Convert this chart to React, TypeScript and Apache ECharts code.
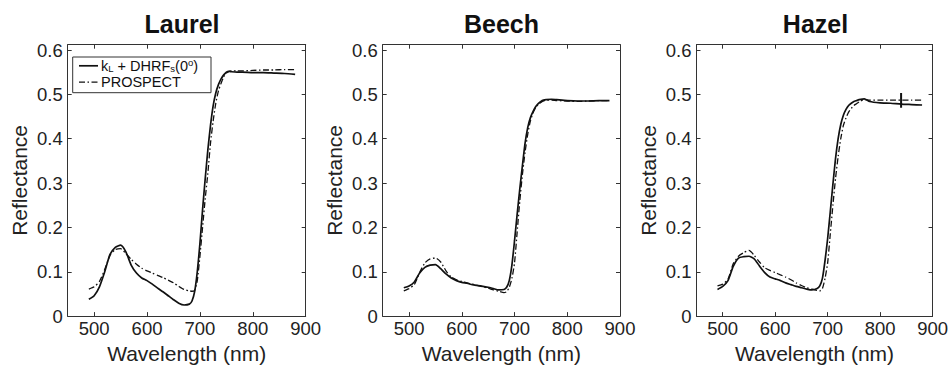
import React, { useEffect, useRef } from "react";
import * as echarts from "echarts";

// ---------- data ----------
const panelTitles = ["Laurel", "Beech", "Hazel"];

const wavelengths = [
  490, 500, 510, 520, 530, 540, 550, 560, 570, 580, 590, 600, 610, 620, 630, 640, 650, 660, 670, 680,
  685, 690, 695, 700, 705, 710, 715, 720, 725, 730, 735, 740, 745, 750, 755, 760,
  770, 780, 800, 820, 840, 860, 880,
];

const laurelModel = [
  0.038, 0.046, 0.066, 0.1, 0.139, 0.155, 0.16, 0.145, 0.115, 0.097, 0.086, 0.08, 0.072, 0.063, 0.055, 0.046, 0.037, 0.029, 0.025, 0.027,
  0.034, 0.055, 0.1, 0.164, 0.24, 0.31, 0.375, 0.43, 0.474, 0.503, 0.522, 0.535, 0.544, 0.55, 0.552, 0.551,
  0.55, 0.55, 0.549, 0.549, 0.548, 0.547, 0.545,
];
const laurelProspect = [
  0.061, 0.066, 0.078, 0.105, 0.137, 0.15, 0.152, 0.141, 0.128, 0.117, 0.108, 0.102, 0.097, 0.092, 0.087, 0.081, 0.075, 0.067, 0.06, 0.057,
  0.056, 0.058, 0.08, 0.135, 0.2, 0.265, 0.322, 0.39, 0.44, 0.48, 0.508, 0.525, 0.54, 0.548, 0.552, 0.553,
  0.553, 0.553, 0.554, 0.555, 0.555, 0.556, 0.556,
];
const beechModel = [
  0.064, 0.068, 0.077, 0.097, 0.11, 0.115, 0.116, 0.107, 0.095, 0.086, 0.08, 0.076, 0.074, 0.071, 0.069, 0.067, 0.065, 0.062, 0.059, 0.06,
  0.065, 0.08, 0.115, 0.17, 0.23, 0.287, 0.34, 0.39, 0.425, 0.447, 0.461, 0.472, 0.479, 0.484, 0.487, 0.488,
  0.489, 0.488, 0.486, 0.485, 0.485, 0.486, 0.486,
];
const beechProspect = [
  0.057, 0.062, 0.071, 0.098, 0.12, 0.129, 0.131, 0.122, 0.102, 0.088, 0.082, 0.078, 0.075, 0.072, 0.069, 0.066, 0.063, 0.059, 0.056, 0.053,
  0.055, 0.065, 0.085, 0.12, 0.19, 0.26, 0.32, 0.37, 0.41, 0.44, 0.458, 0.47, 0.477, 0.482, 0.485, 0.487,
  0.487, 0.486, 0.485, 0.484, 0.485, 0.486, 0.486,
];
const hazelModel = [
  0.06, 0.067, 0.08, 0.112, 0.131, 0.134, 0.135, 0.129, 0.113, 0.098, 0.088, 0.084, 0.08, 0.075, 0.071, 0.067, 0.064, 0.061, 0.059, 0.062,
  0.068, 0.085, 0.125, 0.175, 0.235, 0.297, 0.355, 0.4, 0.432, 0.453, 0.466, 0.475, 0.48, 0.484, 0.486, 0.488,
  0.49, 0.484, 0.481, 0.48, 0.478, 0.477, 0.476,
];
const hazelProspect = [
  0.068, 0.072, 0.083, 0.118, 0.135, 0.143, 0.148, 0.137, 0.122, 0.109, 0.103, 0.098, 0.093, 0.088, 0.082, 0.075, 0.069, 0.064, 0.061, 0.058,
  0.057, 0.062, 0.085, 0.12, 0.185, 0.25, 0.31, 0.36, 0.4, 0.43, 0.447, 0.46, 0.468, 0.475, 0.479, 0.483,
  0.488, 0.487, 0.487, 0.487, 0.487, 0.487, 0.487,
];
// short vertical mark visible in the Hazel panel
const hazelMarkWl = [840, 840];
const hazelMark = [0.47, 0.503];

const xTicks = [500, 600, 700, 800, 900];
const yTicks = [0, 0.1, 0.2, 0.3, 0.4, 0.5, 0.6];

const xMin = 450;
const xMax = 900;
const yMin = 0;
const yMax = 0.612;

// ---------- layout ----------
const gridLefts = [67.7, 382.7, 696.5];
const gridWidths = [238, 237.3, 236.5];
const gridTop = 44.7;
const gridHeight = 276;
const titleX = [182, 501.5, 815.5];

const FONT = "'Liberation Sans', Arial, Helvetica, sans-serif";
const INK = "#111";
const AXIS = "#333";

const pairs = (xs: number[], ys: number[]) => xs.map((x, i) => [x, ys[i]]);

const dashDot = [6, 2.5, 1.5, 2.5];

export default function App() {
  const ref = useRef<HTMLDivElement>(null);

  useEffect(() => {
    if (!ref.current) return;
    const chart = echarts.init(ref.current, undefined, { renderer: "svg" });

    const grids = gridLefts.map((l, i) => ({
      left: l,
      top: gridTop,
      width: gridWidths[i],
      height: gridHeight,
      containLabel: false,
    }));

    const xAxes: any[] = [];
    const yAxes: any[] = [];
    for (let i = 0; i < 3; i++) {
      const common = {
        type: "value",
        gridIndex: i,
        min: xMin,
        max: xMax,
        interval: 50,
        splitLine: { show: false },
        axisLine: { show: true, onZero: false, lineStyle: { color: AXIS, width: 1 } },
        axisTick: { show: true, inside: true, length: 4, customValues: xTicks, lineStyle: { color: AXIS } },
      };
      xAxes.push({
        ...common,
        position: "bottom",
        name: "Wavelength (nm)",
        nameLocation: "middle",
        nameGap: 25.5,
        nameTextStyle: { fontFamily: FONT, fontSize: 21, color: "#222" },
        axisLabel: {
          show: true,
          customValues: xTicks,
          margin: 3,
          fontFamily: FONT,
          fontSize: 18.5,
          color: "#222",
          formatter: (v: number) => String(Math.round(v)),
        },
      });
      xAxes.push({ ...common, position: "top", axisLabel: { show: false } });

      const ycommon = {
        type: "value",
        gridIndex: i,
        min: yMin,
        max: yMax,
        interval: 0.1,
        splitLine: { show: false },
        axisLine: { show: true, onZero: false, lineStyle: { color: AXIS, width: 1 } },
        axisTick: { show: true, inside: true, length: 4, customValues: yTicks, lineStyle: { color: AXIS } },
      };
      yAxes.push({
        ...ycommon,
        position: "left",
        name: "Reflectance",
        nameLocation: "middle",
        nameGap: 38,
        nameTextStyle: { fontFamily: FONT, fontSize: 21, color: "#222" },
        axisLabel: {
          show: true,
          customValues: yTicks,
          margin: 5,
          fontFamily: FONT,
          fontSize: 18.5,
          color: "#222",
          formatter: (v: number) => (Math.abs(v) < 1e-9 ? "0" : v.toFixed(1)),
        },
      });
      yAxes.push({ ...ycommon, position: "right", axisLabel: { show: false } });
    }

    const panelData = [
      [laurelModel, laurelProspect],
      [beechModel, beechProspect],
      [hazelModel, hazelProspect],
    ];
    const series: any[] = [];
    panelData.forEach(([model, prospect], i) => {
      series.push({
        type: "line",
        name: panelTitles[i] + " model",
        xAxisIndex: 2 * i,
        yAxisIndex: 2 * i,
        data: pairs(wavelengths, model),
        showSymbol: false,
        symbol: "none",
        smooth: 0.2,
        lineStyle: { color: INK, width: 1.7, type: "solid" },
        itemStyle: { color: INK },
        z: 3,
      });
      series.push({
        type: "line",
        name: panelTitles[i] + " PROSPECT",
        xAxisIndex: 2 * i,
        yAxisIndex: 2 * i,
        data: pairs(wavelengths, prospect),
        showSymbol: false,
        symbol: "none",
        smooth: 0.2,
        lineStyle: { color: INK, width: 1.3, type: dashDot },
        itemStyle: { color: INK },
        z: 2,
      });
    });
    series.push({
      type: "line",
      name: "Hazel mark",
      xAxisIndex: 4,
      yAxisIndex: 4,
      data: pairs(hazelMarkWl, hazelMark),
      showSymbol: false,
      symbol: "none",
      lineStyle: { color: INK, width: 2 },
      z: 4,
    });

    const rich = {
      n: { fontFamily: FONT, fontSize: 14.5, lineHeight: 16, fill: INK, color: INK },
      sub: { fontFamily: FONT, fontSize: 9.5, lineHeight: 10, verticalAlign: "bottom", fill: INK, color: INK },
      sup: { fontFamily: FONT, fontSize: 9.5, lineHeight: 10, verticalAlign: "top", fill: INK, color: INK },
    };

    // legend box (Laurel panel), drawn as graphic elements
    const lgX = 72.7;
    const lgY = 57;
    const lgW = 138.3;
    const lgH = 35.7;
    const row1 = 65.8;
    const row2 = 82.2;
    const legendGraphic = [
      {
        type: "rect",
        z: 100,
        shape: { x: lgX, y: lgY, width: lgW, height: lgH },
        style: { fill: "#fff", stroke: AXIS, lineWidth: 1 },
      },
      {
        type: "line",
        z: 101,
        shape: { x1: 79, y1: row1, x2: 98, y2: row1 },
        style: { stroke: INK, lineWidth: 1.7 },
      },
      {
        type: "line",
        z: 101,
        shape: { x1: 79, y1: row2, x2: 98, y2: row2 },
        style: { stroke: INK, lineWidth: 1.3, lineDash: dashDot },
      },
      {
        type: "text",
        z: 101,
        x: 101,
        y: row1,
        style: {
          text: "{n|k}{sub|L}{n| + DHRF}{sub|s}{n|(0}{sup|o}{n|)}",
          rich,
          fill: INK,
          font: `14.5px ${FONT}`,
          align: "left",
          verticalAlign: "middle",
        },
      },
      {
        type: "text",
        z: 101,
        x: 101,
        y: row2,
        style: {
          text: "PROSPECT",
          fill: INK,
          font: `14.5px ${FONT}`,
          align: "left",
          verticalAlign: "middle",
        },
      },
    ];

    chart.setOption({
      animation: false,
      backgroundColor: "#fff",
      grid: grids,
      xAxis: xAxes,
      yAxis: yAxes,
      series,
      graphic: [
        ...panelTitles.map((t, i) => ({
          type: "text",
          x: titleX[i],
          y: 23.5,
          style: {
            text: t,
            font: `bold 25px ${FONT}`,
            fill: INK,
            align: "center",
            verticalAlign: "middle",
          },
        })),
        ...legendGraphic,
      ],
    });

    return () => chart.dispose();
  }, []);

  return (
    <div
      ref={ref}
      style={{ position: "fixed", left: 0, top: 0, width: 951, height: 369, background: "#fff" }}
    />
  );
}
